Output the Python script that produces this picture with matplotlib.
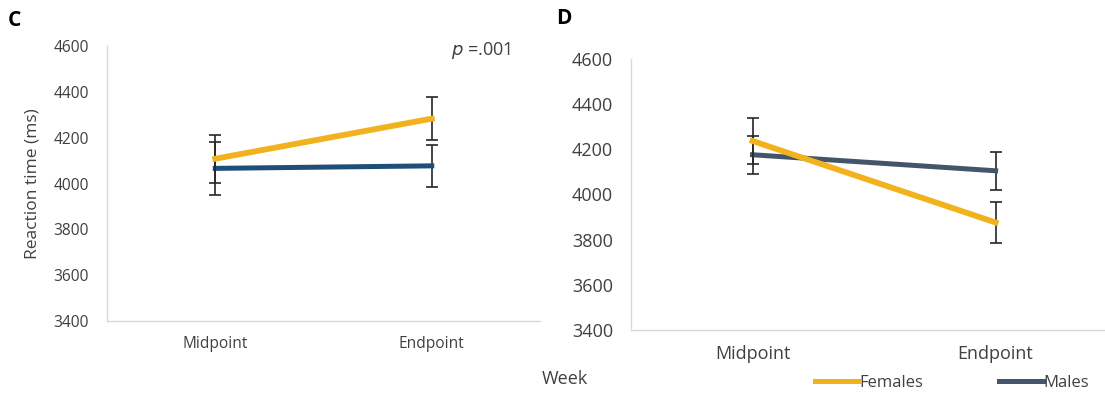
import matplotlib.pyplot as plt
from matplotlib.lines import Line2D

plt.rcParams['font.family'] = ['Open Sans', 'DejaVu Sans']

# Reaction time by week and sex
weeks = ['Midpoint', 'Endpoint']

# panel C
c_females = [4108, 4283]
c_females_err = [105, 93]
c_males = [4066, 4077]
c_males_err = [116, 93]

# panel D
d_females = [4237, 3876]
d_females_err = [101, 89]
d_males = [4176, 4105]
d_males_err = [84, 84]

yticks = [3400, 3600, 3800, 4000, 4200, 4400, 4600]

GOLD = '#F2B21E'
NAVY = '#1F4E79'
SLATE = '#44546A'
TXT = '#404040'
SPINE = '#D9D9D9'

W, H = 1105, 394
fig = plt.figure(figsize=(W / 100, H / 100), dpi=100)

axC = fig.add_axes([107 / W, 1 - 321 / H, 433 / W, 275 / H])
axD = fig.add_axes([631 / W, 1 - 330 / H, 474 / W, 271 / H])


def panel(ax, fem, fem_err, mal, mal_err, male_col, fs, right):
    x = range(len(weeks))
    ax.errorbar(x, fem, yerr=fem_err, color=GOLD, lw=4.2, ecolor='#262626',
                elinewidth=1.2, capsize=4.5, capthick=1.2, zorder=3)
    ax.errorbar(x, mal, yerr=mal_err, color=male_col, lw=3.6, ecolor='#262626',
                elinewidth=1.2, capsize=4.5, capthick=1.2, zorder=2)
    ax.set_xlim(-0.5, right)
    ax.set_ylim(3400, 4600)
    ax.set_yticks(yticks)
    ax.set_xticks(list(x))
    ax.set_xticklabels(weeks)
    ax.tick_params(length=0, labelsize=fs, colors=TXT)
    ax.tick_params(axis='y', pad=13)
    ax.tick_params(axis='x', pad=11)
    for s in ['top', 'right']:
        ax.spines[s].set_visible(False)
    for s in ['left', 'bottom']:
        ax.spines[s].set_color(SPINE)
        ax.spines[s].set_linewidth(1.0)


panel(axC, c_females, c_females_err, c_males, c_males_err, NAVY, 11.2, 1.5)
panel(axD, d_females, d_females_err, d_males, d_males_err, SLATE, 13, 1.45)

axC.set_ylabel('Reaction time (ms)', fontsize=12.5, color=TXT, labelpad=9)
axC.text(511 / 433 - 107 / 433, 0.985, r'$\it{p}$ =.001', transform=axC.transAxes,
         ha='right', va='center', fontsize=13, color=TXT)

fig.text(8 / W, 1 - 21 / H, 'C', fontsize=15, fontweight='bold', va='center')
fig.text(556 / W, 1 - 19 / H, 'D', fontsize=15, fontweight='bold', va='center')
fig.text(565 / W, 1 - 379 / H, 'Week', fontsize=13, color=TXT,
         ha='center', va='center')

handles = [Line2D([], [], color=GOLD, lw=3.6), Line2D([], [], color=SLATE, lw=3.6)]
fig.legend(handles, ['Females', 'Males'], loc='center', ncol=2,
           bbox_to_anchor=(952 / W, 1 - 383 / H), frameon=False, fontsize=12,
           handlelength=2.6, handletextpad=0.05, columnspacing=4.6,
           labelcolor=TXT)

fig.savefig('out.png', dpi=100)
